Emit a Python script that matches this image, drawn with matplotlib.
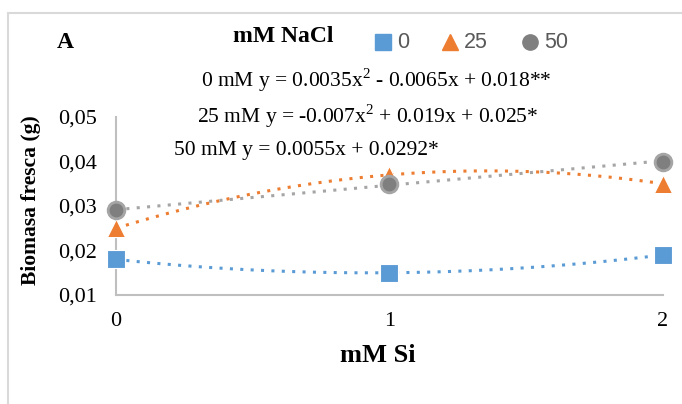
import numpy as np
import matplotlib.pyplot as plt
from matplotlib.patches import Rectangle

# data
si = [0, 1, 2]
nacl_labels = ['0', '25', '50']
biomass = {
    '0': [0.018, 0.015, 0.019],
    '25': [0.025, 0.037, 0.035],
    '50': [0.029, 0.035, 0.040],
}
trend_degree = {'0': 2, '25': 2, '50': 1}
equations = [
    r'0 mM y = 0.0035x$^2$ - 0.0065x + 0.018**',
    r'25 mM y = -0.007x$^2$ + 0.019x + 0.025*',
    r'50 mM y = 0.0055x + 0.0292*',
]
yticks = [0.01, 0.02, 0.03, 0.04, 0.05]

colors = {'0': '#5b9bd5', '25': '#ed7d31', '50': '#7f7f7f'}
line_colors = {'0': '#5b9bd5', '25': '#ed7d31', '50': '#a5a5a5'}
markers = {'0': 's', '25': '^', '50': 'o'}

plt.rcParams['font.family'] = ['Liberation Serif', 'DejaVu Serif']
plt.rcParams['mathtext.fontset'] = 'custom'
plt.rcParams['mathtext.rm'] = 'Liberation Serif'

W, H = 682, 404
fig = plt.figure(figsize=(W / 100, H / 100), dpi=100)

# light outer frame
fig.patches.append(Rectangle((8 / W, -0.1), 1.0, 1.1 - 13 / H, transform=fig.transFigure,
                             fill=False, edgecolor='#d9d9d9', lw=1.5))

ax = fig.add_axes([116 / W, 1 - 295 / H, (663 - 116) / W, (295 - 117) / H])

xs = np.linspace(0, 2, 200)
for lab in nacl_labels:
    y = biomass[lab]
    p = np.poly1d(np.polyfit(si, y, trend_degree[lab]))
    ax.plot(xs, p(xs), ls=(0, (1, 2.4)), lw=2.2, color=line_colors[lab], zorder=1)
    if lab == '50':
        ax.scatter(si, y, marker='o', s=170, color='#a5a5a5', zorder=3, clip_on=False)
        ax.scatter(si, y, marker='o', s=80, color='#7f7f7f', zorder=4, clip_on=False)
    else:
        ax.scatter(si, y, marker=markers[lab], s=170, color=colors[lab],
                   edgecolor='white', linewidth=0.8, zorder=3, clip_on=False)

ax.set_xlim(0, 2)
ax.set_ylim(0.01, 0.05)
ax.set_xticks(si)
ax.set_xticklabels([str(v) for v in si], fontsize=16)
ax.set_yticks(yticks)
ax.set_yticklabels([f'{v:.2f}'.replace('.', ',') for v in yticks], fontsize=16)
ax.tick_params(length=0)
ax.tick_params(axis='y', pad=14)
ax.tick_params(axis='x', pad=12)
for s in ['top', 'right']:
    ax.spines[s].set_visible(False)
for s in ['left', 'bottom']:
    ax.spines[s].set_color('#bfbfbf')
    ax.spines[s].set_linewidth(1.5)

fig.text(378 / W, 1 - 355 / H, 'mM Si', ha='center', va='center',
         fontsize=19, fontweight='bold')
fig.text(31 / W, 1 - 200 / H, 'Biomasa fresca (g)', ha='center', va='center',
         rotation=90, fontsize=15.5, fontweight='bold')
fig.text(65 / W, 1 - 43 / H, 'A', ha='center', va='center', fontsize=17, fontweight='bold')
fig.text(283 / W, 1 - 37 / H, 'mM NaCl', ha='center', va='center', fontsize=17, fontweight='bold')

# legend
leg_x = [383, 450, 530]
for lab, lx in zip(nacl_labels, leg_x):
    fig.lines.append(plt.Line2D([lx / W], [1 - 42 / H], transform=fig.transFigure,
                                marker=markers[lab], ms=11, color=colors[lab], ls='none'))
    fig.text((lx + 14) / W, 1 - 42 / H, lab, ha='left', va='center', fontsize=15.5,
             color='#595959', family=['Liberation Sans Narrow', 'Liberation Sans', 'DejaVu Sans'])

eq_y = [80, 116, 150]
eq_x = [376, 368, 306]
for txt, ex, ey in zip(equations, eq_x, eq_y):
    fig.text(ex / W, 1 - ey / H, txt, ha='center', va='center', fontsize=15.5)

fig.savefig('out.png', dpi=100)
